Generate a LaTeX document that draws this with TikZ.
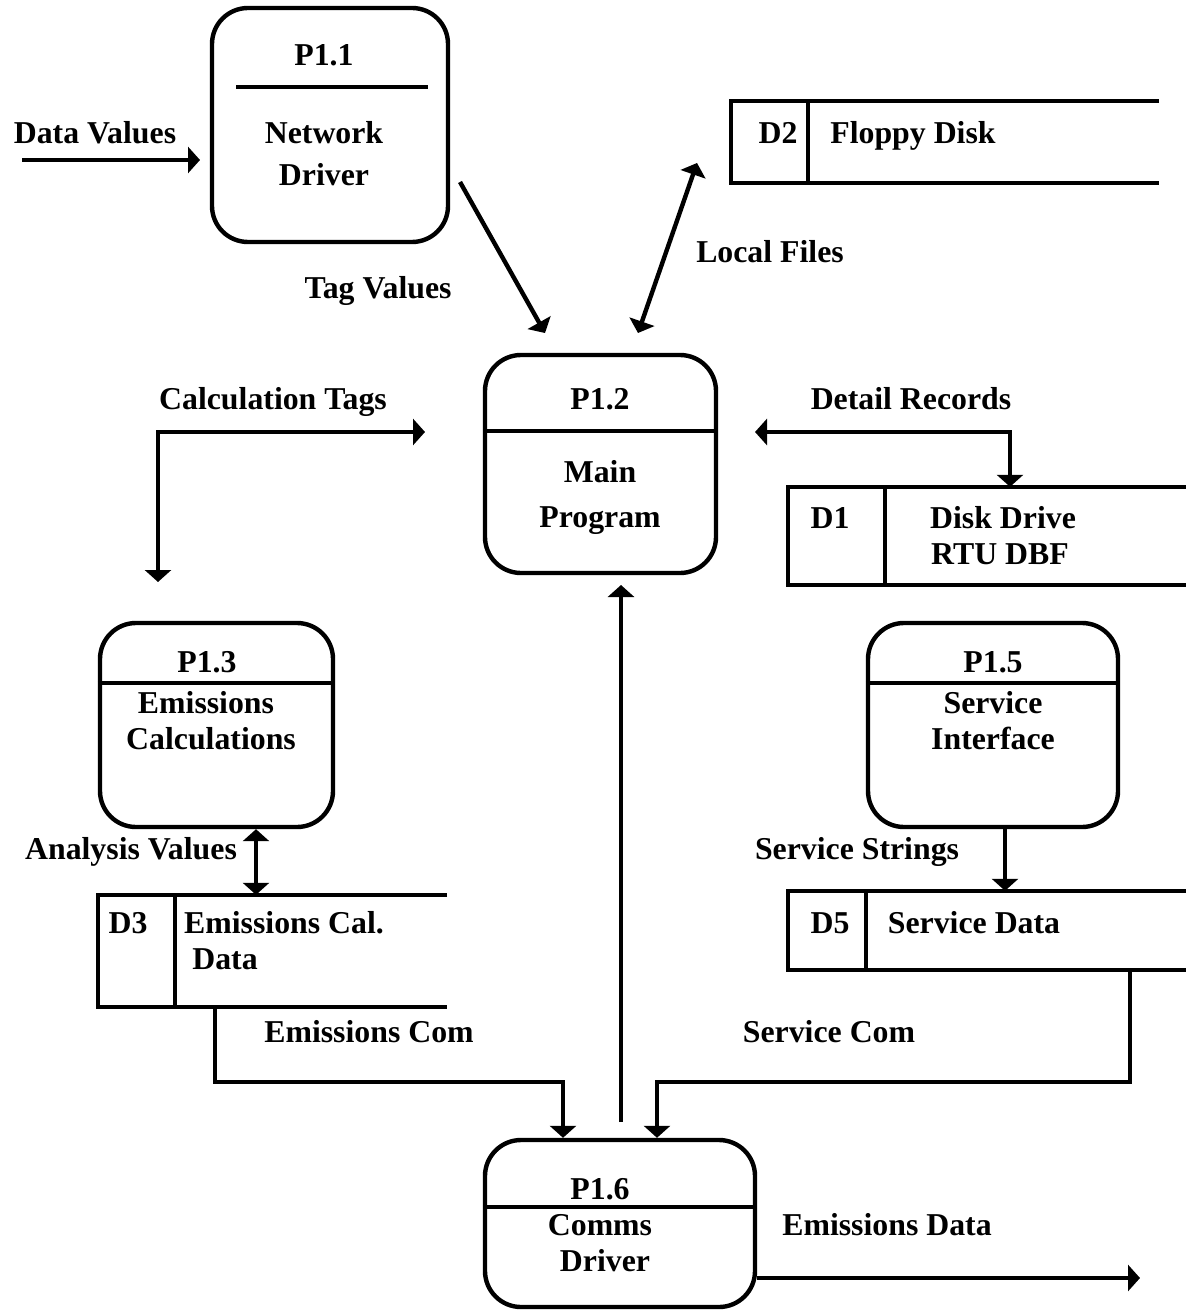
\documentclass[tikz,border=0pt]{standalone}
\usepackage{fontspec}
\setmainfont{Liberation Serif}
\usetikzlibrary{arrows.meta,fit}
\begin{document}
\begin{tikzpicture}[x=0.5pt,y=-0.5pt, line width=2.2pt,
  proc/.style={draw, rounded corners=18pt, inner sep=0pt},
  store/.style={draw=none, inner sep=0pt},
  lbl/.style={anchor=base, inner sep=0pt, font=\fontsize{15.9}{19}\selectfont\bfseries},
  arr/.style={-{Triangle[length=6pt,width=13pt]}},
  darr/.style={{Triangle[length=6pt,width=13pt]}-{Triangle[length=6pt,width=13pt]}}]
\useasboundingbox (0,0) rectangle (1186,1310);

% process boxes
\node[proc, fit={(212,8) (448,242)}] (p11) {};
\node[proc, fit={(485,355) (716,573)}] (p12) {};
\node[proc, fit={(100,623) (333,827)}] (p13) {};
\node[proc, fit={(868,623) (1118,827)}] (p15) {};
\node[proc, fit={(485,1140) (755,1307)}] (p16) {};

% dividers
\draw (236,87) -- (428,87);
\draw (p12.west |- 0,431) -- (p12.east |- 0,431);
\draw (p13.west |- 0,683) -- (p13.east |- 0,683);
\draw (p15.west |- 0,683) -- (p15.east |- 0,683);
\draw (p16.west |- 0,1207) -- (p16.east |- 0,1207);

% data stores
\node[store, fit={(733,103) (1157,181)}] (d2) {};
\node[store, fit={(790,489) (1186,583)}] (d1) {};
\node[store, fit={(100,897) (445,1005)}] (d3) {};
\node[store, fit={(790,893) (1186,968)}] (d5) {};
\foreach \s/\dx in {d2/77, d1/97, d3/77, d5/78}{
  \draw[line join=miter] (\s.north east) -- (\s.north west) -- (\s.south west) -- (\s.south east);
  \draw ([xshift=\dx*0.5pt]\s.north west) -- ([xshift=\dx*0.5pt]\s.south west);
}

% texts in boxes
\node[lbl] (t11a) at (324,66) {P1.1};
\node[lbl] (t11b) at (324,144) {Network};
\node[lbl] (t11c) at (324,186) {Driver};
\node[lbl] (t12a) at (600,409) {P1.2};
\node[lbl] (t12b) at (600,482) {Main};
\node[lbl] (t12c) at (600,527) {Program};
\node[lbl] (t13a) at (207,672) {P1.3};
\node[lbl] (t13b) at (206,713) {Emissions};
\node[lbl] (t13c) at (211,749) {Calculations};
\node[lbl] (t15a) at (993,672) {P1.5};
\node[lbl] (t15b) at (993,713) {Service};
\node[lbl] (t15c) at (993,749) {Interface};
\node[lbl] (t16a) at (600,1199) {P1.6};
\node[lbl] (t16b) at (600,1235) {Comms};
\node[lbl] (t16c) at (605,1271) {Driver};
\node[lbl] (td2a) at (778,144) {D2};
\node[lbl] (td2b) at (913,144) {Floppy Disk};
\node[lbl] (td1a) at (830,528) {D1};
\node[lbl] (td1b) at (1003,528) {Disk Drive};
\node[lbl] (td1c) at (1000,564) {RTU DBF};
\node[lbl] (td3a) at (128,933) {D3};
\node[lbl] (td3b) at (284,933) {Emissions Cal.};
\node[lbl] (td3c) at (225,969) {Data};
\node[lbl] (td5a) at (830,933) {D5};
\node[lbl] (td5b) at (974,933) {Service Data};

% flow labels
\node[lbl] (lDV) at (95,144) {Data Values};
\node[lbl] (lTV) at (378,299) {Tag Values};
\node[lbl] (lLF) at (770,263) {Local Files};
\node[lbl] (lCT) at (273,409) {Calculation Tags};
\node[lbl] (lDR) at (911,409) {Detail Records};
\node[lbl] (lAV) at (131,859) {Analysis Values};
\node[lbl] (lSS) at (857,859) {Service Strings};
\node[lbl] (lEC) at (369,1042) {Emissions Com};
\node[lbl] (lSC) at (829,1042) {Service Com};
\node[lbl] (lED) at (887,1235) {Emissions Data};

% connector end points
\coordinate (dv0) at (22,160);
\coordinate (dv1) at (200,160);
\coordinate (tv0) at (460,182);
\coordinate (tv1) at (545,333);
\coordinate (lf0) at (638,333);
\coordinate (lf1) at (697,163);
\coordinate (ct0) at (158,582);
\coordinate (ct1) at (425,432);
\coordinate (dr0) at (755,432);
\coordinate (cm0) at (621,1122);
\coordinate (cm1) at (621,585);
\coordinate (ed1) at (1140,1278);

% connectors
\draw[arr] (dv0) -- (dv1);
\draw[arr] (tv0) -- (tv1);
\draw[darr] (lf0) -- (lf1);
\draw[darr] (ct0) |- (ct1);
\draw[darr] (dr0) -| (d1.north -| 1010,0);
\draw[darr] (p13.south -| 256,0) -- (d3.north -| 256,0);
\draw[arr] (p15.south -| 1005,0) -- (d5.north -| 1005,0);
\draw[arr] (d3.south -| 215,0) -- (215,1082) -| (p16.north -| 563,0);
\draw[arr] (d5.south -| 1130,0) -- (1130,1082) -| (p16.north -| 657,0);
\draw[arr] (cm0) -- (cm1);
\draw[arr] (p16.east |- 0,1278) -- (ed1);
\end{tikzpicture}
\end{document}
